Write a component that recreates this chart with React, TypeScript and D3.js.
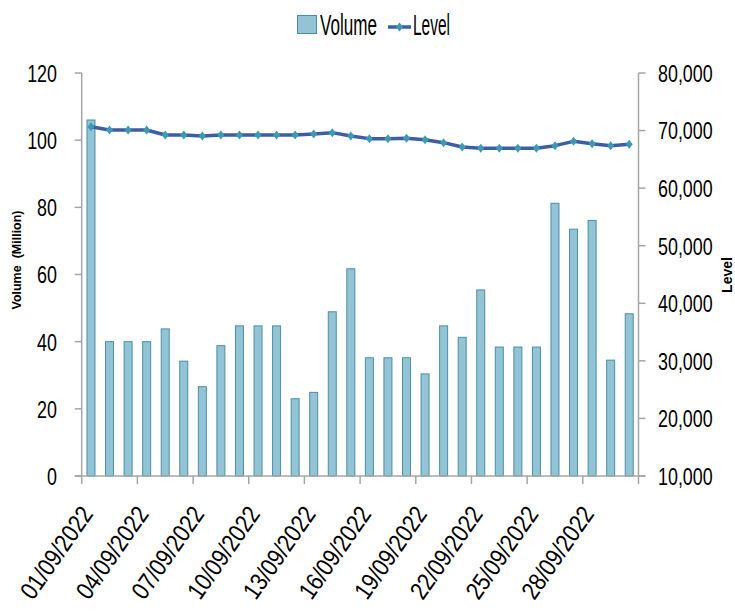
import React from "react";
import * as d3 from "d3";

const dates: string[] = Array.from({ length: 30 }, (_, i) =>
  `${String(i + 1).padStart(2, "0")}/09/2022`
);

const volume: number[] = [
  106, 40, 40, 40, 43.8, 34.2, 26.6, 38.8, 44.7, 44.7,
  44.7, 23.0, 24.9, 48.9, 61.7, 35.2, 35.2, 35.2, 30.4, 44.7,
  41.3, 55.4, 38.4, 38.4, 38.4, 81.2, 73.5, 76.1, 34.5, 48.3,
];

const level: number[] = [
  70680, 70100, 70100, 70100, 69230, 69230, 69060, 69230, 69230, 69230,
  69230, 69230, 69400, 69640, 69060, 68600, 68600, 68650, 68420, 67900,
  67150, 66920, 66920, 66920, 66920, 67380, 68130, 67730, 67380, 67610,
];

const volumeTicks: number[] = [0, 20, 40, 60, 80, 100, 120];
const levelTicks: number[] = [10000, 20000, 30000, 40000, 50000, 60000, 70000, 80000];

const W = 735;
const H = 615;
const left = 81.7;
const right = 638.5;
const top = 73;
const bottom = 476;

const BAR_FILL = "#93c4d6";
const BAR_STROKE = "#4a8fa4";
const LINE_COLOR = "#3c5ea8";
const MARKER_COLOR = "#3c9bb3";
const AXIS_COLOR = "#a6a6a6";
const SANS = "'Liberation Sans', Arial, sans-serif";
// horizontal squeeze applied to the tall, narrow tick-label lettering
const SQUEEZE = 0.73;

export default function App() {
  const x = d3.scaleBand<string>().domain(dates).range([left, right]).padding(0);
  const yL = d3.scaleLinear().domain([0, 120]).range([bottom, top]);
  const yR = d3.scaleLinear().domain([10000, 80000]).range([bottom, top]);
  const barW = 8;
  const cx = (d: string) => (x(d) as number) + x.bandwidth() / 2;

  const line = d3
    .line<number>()
    .x((_, i) => cx(dates[i]))
    .y((v) => yR(v));

  const fmt = d3.format(",");
  const diamond = "M0,-4.5L3.5,0L0,4.5L-3.5,0Z";

  return (
    <svg
      width={W}
      height={H}
      style={{ position: "absolute", left: 0, top: 0, display: "block", background: "#fff" }}
    >
      {/* legend */}
      <g>
        <rect x={297.5} y={15.5} width={19} height={18} fill={BAR_FILL} stroke={BAR_STROKE} strokeWidth={1} />
        <text x={320} y={35} fontFamily={SANS} fontSize={29} textLength={57} lengthAdjust="spacingAndGlyphs">
          Volume
        </text>
        <line x1={388} x2={411} y1={27} y2={27} stroke={LINE_COLOR} strokeWidth={3.5} />
        <path d={diamond} transform="translate(399.5,27)" fill={MARKER_COLOR} />
        <text x={413} y={35} fontFamily={SANS} fontSize={29} textLength={37} lengthAdjust="spacingAndGlyphs">
          Level
        </text>
      </g>

      {/* bars */}
      {volume.map((v, i) => (
        <rect
          key={i}
          x={cx(dates[i]) - barW / 2}
          y={yL(v)}
          width={barW}
          height={bottom - yL(v)}
          fill={BAR_FILL}
          stroke={BAR_STROKE}
          strokeWidth={1}
        />
      ))}

      {/* left axis */}
      <line x1={left} x2={left} y1={top} y2={bottom} stroke={AXIS_COLOR} strokeWidth={1.5} />
      {volumeTicks.map((t) => (
        <g key={t}>
          <line x1={left - 7} x2={left} y1={yL(t)} y2={yL(t)} stroke={AXIS_COLOR} strokeWidth={1.5} />
          <text
            transform={`translate(57,${yL(t)}) scale(${SQUEEZE},1)`}
            dy="0.36em"
            textAnchor="end"
            fontFamily={SANS}
            fontSize={24.5}
          >
            {t}
          </text>
        </g>
      ))}

      {/* right axis */}
      <line x1={right} x2={right} y1={top} y2={bottom + 8} stroke={AXIS_COLOR} strokeWidth={1.5} />
      {levelTicks.map((t) => (
        <g key={t}>
          <line x1={right} x2={right + 7} y1={yR(t)} y2={yR(t)} stroke={AXIS_COLOR} strokeWidth={1.5} />
          <text
            transform={`translate(658,${yR(t)}) scale(${SQUEEZE},1)`}
            dy="0.36em"
            textAnchor="start"
            fontFamily={SANS}
            fontSize={24.5}
          >
            {fmt(t)}
          </text>
        </g>
      ))}

      {/* bottom axis */}
      <line x1={left - 7} x2={right + 7} y1={bottom} y2={bottom} stroke={AXIS_COLOR} strokeWidth={1.5} />
      {dates.map((d, i) =>
        i % 3 === 0 ? (
          <line key={d} x1={x(d)} x2={x(d)} y1={bottom} y2={bottom + 8} stroke={AXIS_COLOR} strokeWidth={1.5} />
        ) : null
      )}
      {dates.map((d, i) =>
        i % 3 === 0 ? (
          <text
            key={d}
            transform={`translate(${cx(d) + 3},${bottom + 38}) rotate(-55) scale(0.85,1)`}
            textAnchor="end"
            fontFamily={SANS}
            fontSize={25}
          >
            {d}
          </text>
        ) : null
      )}

      {/* level line */}
      <path d={line(level) || ""} fill="none" stroke={LINE_COLOR} strokeWidth={3.5} strokeLinejoin="round" />
      {level.map((v, i) => (
        <path key={i} d={diamond} transform={`translate(${cx(dates[i])},${yR(v)})`} fill={MARKER_COLOR} />
      ))}

      {/* axis titles */}
      <text
        transform="translate(21,260) rotate(-90)"
        textAnchor="middle"
        fontFamily={SANS}
        fontWeight="bold"
        fontSize={12.5}
        style={{ whiteSpace: "pre" }}
      >
        {"Volume  (Million)"}
      </text>
      <text
        transform="translate(732,275) rotate(-90)"
        textAnchor="middle"
        fontFamily={SANS}
        fontWeight="bold"
        fontSize={14}
      >
        Level
      </text>
    </svg>
  );
}
